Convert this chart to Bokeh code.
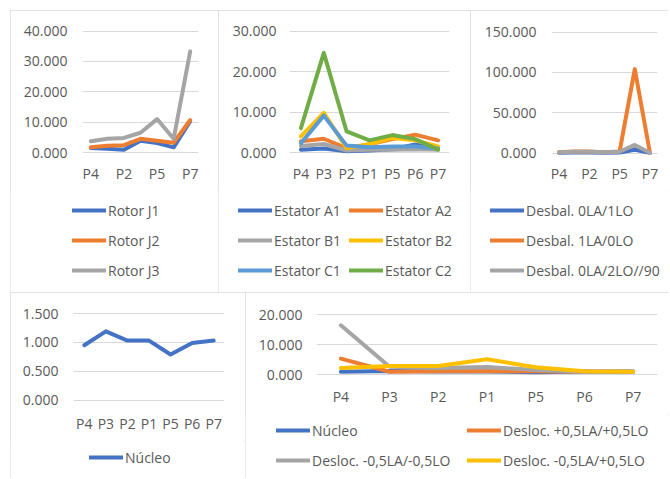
from bokeh.plotting import figure
from bokeh.models import Legend, LegendItem, FixedTicker, Range1d
from bokeh.layouts import row, column
from bokeh.embed import file_html
from bokeh.resources import INLINE

# ---------------- data ----------------
categories = ["P4", "P3", "P2", "P1", "P5", "P6", "P7"]

rotor_j1 = [1.5, 1.2, 0.9, 3.9, 3.1, 1.7, 10.3]
rotor_j2 = [1.7, 2.2, 2.4, 4.5, 3.9, 3.2, 10.7]
rotor_j3 = [3.7, 4.5, 4.8, 6.5, 11.0, 4.5, 33.3]

estator_a1 = [0.7, 1.0, 0.3, 0.5, 0.8, 2.0, 1.0]
estator_a2 = [2.8, 3.4, 1.0, 2.0, 3.3, 4.4, 3.0]
estator_b1 = [1.6, 2.1, 0.5, 0.7, 0.7, 0.8, 0.7]
estator_b2 = [4.0, 9.8, 1.1, 2.1, 3.6, 3.0, 1.5]
estator_c1 = [2.3, 9.1, 1.7, 1.3, 1.5, 1.5, 1.0]
estator_c2 = [6.0, 24.6, 5.2, 3.0, 4.3, 3.3, 0.7]

desbal_0la_1lo = [0.3, 0.5, 0.5, 0.3, 0.5, 4.0, 0.2]
desbal_1la_0lo = [0.8, 2.0, 2.0, 1.0, 2.0, 104.0, 0.3]
desbal_0la_2lo_90 = [1.0, 1.5, 1.5, 1.0, 1.5, 10.0, 0.3]

nucleo = [0.95, 1.19, 1.03, 1.03, 0.79, 0.99, 1.03]

desloc_pp = [5.3, 0.9, 1.1, 1.1, 1.1, 0.9, 0.9]
desloc_mm = [16.4, 2.6, 2.2, 2.5, 1.5, 0.9, 0.9]
desloc_mp = [2.2, 2.8, 2.8, 5.1, 2.4, 1.1, 0.9]

rotor_ticks = [0, 10, 20, 30, 40]
rotor_tick_labels = ["0.000", "10.000", "20.000", "30.000", "40.000"]
estator_ticks = [0, 10, 20, 30]
estator_tick_labels = ["0.000", "10.000", "20.000", "30.000"]
desbal_ticks = [0, 50, 100, 150]
desbal_tick_labels = ["0.000", "50.000", "100.000", "150.000"]
nucleo_ticks = [0, 0.5, 1, 1.5]
nucleo_tick_labels = ["0.000", "0.500", "1.000", "1.500"]
desloc_ticks = [0, 10, 20]
desloc_tick_labels = ["0.000", "10.000", "20.000"]

# ---------------- style ----------------
FONT = "Open Sans"
FS = "14px"
TXT = "#595959"
GRID = "#D9D9D9"
BLUE = "#4472C4"
ORANGE = "#ED7D31"
GRAY = "#A5A5A5"
YELLOW = "#FFC000"
LBLUE = "#5B9BD5"
GREEN = "#70AD47"
LW = 4


def panel(W, Hp, Hl, ox, oy, fx0, fx1, ytop, ybot, ticks, tick_labels, shown,
          ystand, xlab_cy, series, legend_cols):
    pad = 4
    ymax = ticks[-1]
    top_b = round(ytop - pad - oy)
    bot_b = round(oy + Hp - ybot - pad)
    left_b = round(fx0 - ox)
    right_b = round(ox + W - fx1)
    frame_top = oy + top_b
    frame_bot = oy + Hp - bot_b
    ppu = (ybot - ytop) / ymax
    y0 = -(frame_bot - ybot) / ppu
    y1 = ymax + (ytop - frame_top) / ppu
    p = figure(width=W, height=Hp, x_range=Range1d(-0.5, 6.5), y_range=Range1d(y0, y1),
               output_backend="svg", toolbar_location=None,
               min_border_left=left_b, min_border_right=right_b,
               min_border_top=top_b, min_border_bottom=bot_b,
               outline_line_color=None, background_fill_color="white",
               border_fill_color="white")
    p.xgrid.visible = False
    p.ygrid.grid_line_color = GRID
    p.ygrid.grid_line_width = 1

    xs = list(range(len(categories)))
    p.xaxis.ticker = FixedTicker(ticks=shown)
    p.xaxis.major_label_overrides = {i: categories[i] for i in shown}
    p.yaxis.ticker = FixedTicker(ticks=ticks)
    p.yaxis.major_label_overrides = {t: l for t, l in zip(ticks, tick_labels)}
    for ax in (p.xaxis[0], p.yaxis[0]):
        ax.axis_line_color = None
        ax.major_tick_line_color = None
        ax.minor_tick_line_color = None
        ax.major_tick_out = 0
        ax.major_tick_in = 0
        ax.major_label_text_font = FONT
        ax.major_label_text_font_size = FS
        ax.major_label_text_color = TXT
    p.yaxis.major_label_standoff = ystand
    p.xaxis.major_label_standoff = int(round(xlab_cy - frame_bot - 10))

    for name, vals, color in series:
        p.line(xs, vals, line_color=color, line_width=LW,
               line_join="round", line_cap="round")

    # legend area: a frame-only figure holding the legend entries
    lf = figure(width=W, height=Hl, x_range=Range1d(0, 1), y_range=Range1d(0, 1),
                output_backend="svg", toolbar_location=None,
                x_axis_location=None, y_axis_location=None,
                min_border=0, outline_line_color=None,
                background_fill_color="white", border_fill_color="white")
    lf.grid.visible = False
    proxies = {}
    for name, vals, color in series:
        proxies[name] = lf.line(xs, vals, line_color=color, line_width=LW,
                                line_join="round", line_cap="round", visible=False)
    fig_top = oy + Hp
    for (lx, lcy, names) in legend_cols:
        n = len(names)
        lh = n * 20 + (n - 1) * 10
        sy_top = (lcy - 10) - fig_top
        vx = (lx + 2) - ox
        vy = Hl - lh - sy_top
        leg = Legend(items=[LegendItem(label=nm, renderers=[proxies[nm]]) for nm in names],
                     location=(vx, vy), orientation="vertical",
                     glyph_width=34, glyph_height=20, label_height=20,
                     spacing=10, padding=0, margin=0, label_standoff=2,
                     border_line_color=None, background_fill_alpha=0,
                     inactive_fill_alpha=0,
                     label_text_font=FONT, label_text_font_size=FS,
                     label_text_color=TXT)
        lf.add_layout(leg, "center")
    return column(row(p), row(lf),
                  styles={"outline": "1px solid #D9D9D9", "outline-offset": "-1px"})


p1 = panel(208, 180, 102, 10, 10, 82, 198, 30.5, 152, rotor_ticks, rotor_tick_labels,
           [0, 2, 4, 6], 15, 173,
           [("Rotor J1", rotor_j1, BLUE), ("Rotor J2", rotor_j2, ORANGE),
            ("Rotor J3", rotor_j3, GRAY)],
           [(70, 210, ["Rotor J1", "Rotor J2", "Rotor J3"])])

p2 = panel(252, 180, 102, 218, 10, 289, 449, 30.5, 152, estator_ticks, estator_tick_labels,
           [0, 1, 2, 3, 4, 5, 6], 13, 173,
           [("Estator A1", estator_a1, BLUE), ("Estator A2", estator_a2, ORANGE),
            ("Estator B1", estator_b1, GRAY), ("Estator B2", estator_b2, YELLOW),
            ("Estator C1", estator_c1, LBLUE), ("Estator C2", estator_c2, GREEN)],
           [(236, 210, ["Estator A1", "Estator B1", "Estator C1"]),
            (347, 210, ["Estator A2", "Estator B2", "Estator C2"])])

p3 = panel(198, 180, 102, 470, 10, 551, 657, 31.5, 152.5, desbal_ticks, desbal_tick_labels,
           [0, 2, 4, 6], 15, 173,
           [("Desbal. 0LA/1LO", desbal_0la_1lo, BLUE),
            ("Desbal. 1LA/0LO", desbal_1la_0lo, ORANGE),
            ("Desbal. 0LA/2LO//90", desbal_0la_2lo_90, GRAY)],
           [(488, 210, ["Desbal. 0LA/1LO", "Desbal. 1LA/0LO", "Desbal. 0LA/2LO//90"])])

p4 = panel(235, 148, 38, 10, 292, 73, 224, 313, 399.5, nucleo_ticks, nucleo_tick_labels,
           [0, 1, 2, 3, 4, 5, 6], 15, 423,
           [("Núcleo", nucleo, BLUE)],
           [(87, 457, ["Núcleo"])])

p5 = panel(423, 123, 63, 245, 292, 316, 657, 314, 374, desloc_ticks, desloc_tick_labels,
           [0, 1, 2, 3, 4, 5, 6], 14, 396,
           [("Núcleo", nucleo, BLUE),
            ("Desloc. +0,5LA/+0,5LO", desloc_pp, ORANGE),
            ("Desloc. -0,5LA/-0,5LO", desloc_mm, GRAY),
            ("Desloc. -0,5LA/+0,5LO", desloc_mp, YELLOW)],
           [(274, 430, ["Núcleo", "Desloc. -0,5LA/-0,5LO"]),
            (465, 430, ["Desloc. +0,5LA/+0,5LO", "Desloc. -0,5LA/+0,5LO"])])

layout = column(row(p1, p2, p3), row(p4, p5), margin=(10, 0, 0, 10))

open("out.html", "w").write(file_html(layout, INLINE))
